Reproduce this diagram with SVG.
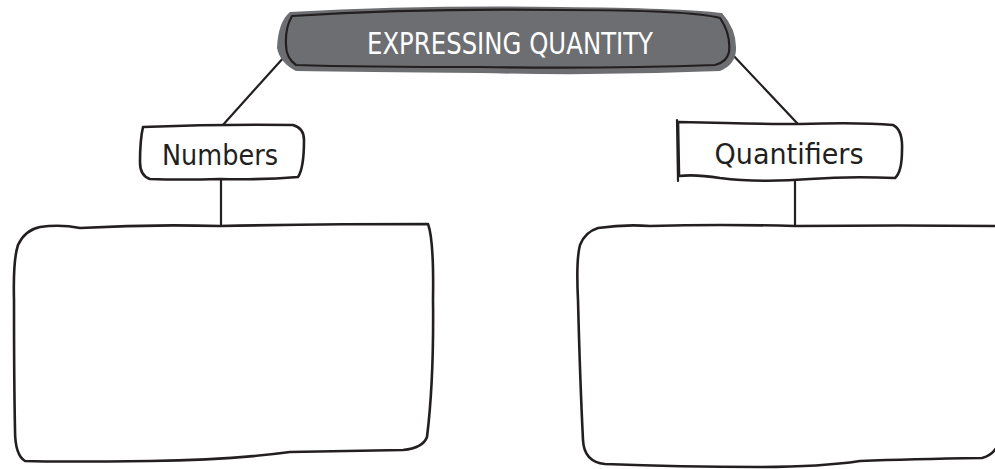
<svg xmlns="http://www.w3.org/2000/svg" width="995" height="469" viewBox="0 0 995 469">
<style>
.ln{fill:none;stroke:#231f20;stroke-width:2.2;stroke-linecap:round;stroke-linejoin:round}
.bx{fill:#fff;stroke:#231f20;stroke-width:2.6;stroke-linejoin:round}
.lbl{font-family:"DejaVu Sans",sans-serif;fill:#231f20}
.ttl{font-family:"DejaVu Sans",sans-serif;fill:#fff}
</style>
<rect width="995" height="469" fill="#fff"/>
<g id="connectors">
<path class="ln" d="M285 56 L222 126"/>
<path class="ln" d="M731 53 L797 123"/>
<path class="ln" d="M221 180 L221 226"/>
<path class="ln" d="M795 180 L795 226"/>
</g>
<g id="title">
<path d="M290 12 Q420 5 560 7 Q680 8 722 13 Q737 30 736 50 Q735 65 720 71 Q600 76 480 73 Q360 72 296 71 Q280 63 277 48 Q278 22 290 12 Z" fill="#6d6e71"/>
<path class="ln" stroke-width="2.6" d="M292 16 Q420 8 560 10 Q690 10 720 18 Q731 34 729 52 Q727 62 715 65 Q600 69 480 67 Q360 67 296 65 Q286 58 286 45 Q285 28 292 16 Z"/>
<text class="ttl" x="510" y="54" font-size="30" text-anchor="middle" textLength="286" lengthAdjust="spacingAndGlyphs">EXPRESSING QUANTITY</text>
</g>
<g id="numbers">
<path class="bx" d="M143 127 Q220 124 293 125 Q304 128 304 140 Q304 168 298 177 Q260 180 220 179 Q180 180 150 179 Q140 176 140 162 Q140 140 143 127 Z"/>
<text class="lbl" x="220" y="165" font-size="29" text-anchor="middle" textLength="116" lengthAdjust="spacingAndGlyphs">Numbers</text>
</g>
<g id="quantifiers">
<path class="bx" d="M678 122 Q760 124 800 124 Q860 122 893 125 Q903 130 902 150 Q902 172 895 178 Q850 176 810 179 Q760 183 720 178 Q695 174 679 176 Z"/>
<path class="ln" stroke-width="3" d="M677 120 L678 181"/>
<text class="lbl" x="789" y="164" font-size="29" text-anchor="middle" textLength="149" lengthAdjust="spacingAndGlyphs">Quantifiers</text>
</g>
<g id="box-left">
<path class="bx" d="M40 227 Q60 224 80 228 Q150 224 220 226 Q330 224 428 224 Q434 240 433 300 Q434 380 427 437 Q423 448 403 450 Q350 451 290 452 Q230 460 150 461 Q60 462 25 461 Q15 455 15 430 Q14 380 14 300 Q13 260 18 245 Q25 230 40 227 Z"/>
</g>
<g id="box-right">
<path class="bx" d="M598 228 Q625 224 650 226 Q720 224 795 226 Q900 225 1000 226 L1000 440 Q995 455 982 458 Q910 459 860 461 Q820 467 760 467 Q680 467 605 464 Q584 462 583 440 Q580 380 578 300 Q576 260 580 245 Q585 232 598 228 Z"/>
</g>
</svg>
